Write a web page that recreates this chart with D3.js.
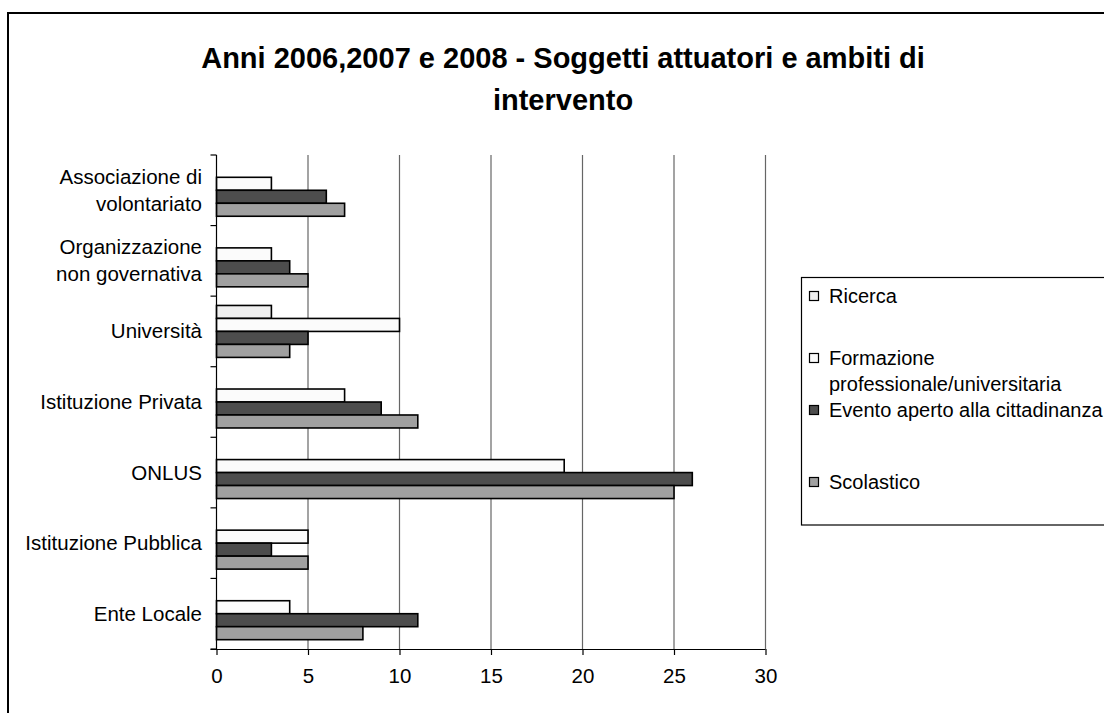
<!DOCTYPE html>
<html>
<head>
<meta charset="utf-8">
<script src="https://cdn.jsdelivr.net/npm/d3@7"></script>
<style>
  body { margin: 0; background: #fff; }
  svg { display: block; font-family: "Liberation Sans", Arial, sans-serif; }
</style>
</head>
<body>
<svg id="chart" width="1104" height="713"></svg>
<script>
// categories, top to bottom
const categories = [
    "Associazione di volontariato",
    "Organizzazione non governativa",
    "Università",
    "Istituzione Privata",
    "ONLUS",
    "Istituzione Pubblica",
    "Ente Locale"
];
// label lines as they wrap in the picture
const categoryLines = [
    ["Associazione di", "volontariato"],
    ["Organizzazione", "non governativa"],
    ["Università"],
    ["Istituzione Privata"],
    ["ONLUS"],
    ["Istituzione Pubblica"],
    ["Ente Locale"]
];

const series = ["Ricerca", "Formazione professionale/universitaria", "Evento aperto alla cittadinanza", "Scolastico"];
const seriesLines = [["Ricerca"], ["Formazione", "professionale/universitaria"], ["Evento aperto alla cittadinanza"], ["Scolastico"]];
const seriesColors = ["#efefef", "#fbfbfb", "#4d4d4d", "#a0a0a0"];

const ricerca    = [0, 0, 3, 0, 0, 0, 0];
const formazione = [3, 3, 10, 7, 19, 5, 4];
const evento     = [6, 4, 5, 9, 26, 3, 11];
const scolastico = [7, 5, 4, 11, 25, 5, 8];

const xTicks = [0, 5, 10, 15, 20, 25, 30];

const titleLines = ["Anni 2006,2007 e 2008 - Soggetti attuatori e ambiti di", "intervento"];

const svg = d3.select('#chart');

// outer chart frame
svg.append('rect')
    .attr('x', 8).attr('y', 13)
    .attr('width', 1110).attr('height', 720)
    .attr('fill', '#fff')
    .attr('stroke', '#000')
    .attr('stroke-width', 2);

// title
svg.append('text')
    .attr('text-anchor', 'middle')
    .attr('font-weight', 'bold')
    .attr('font-size', 29)
    .selectAll('tspan')
    .data(titleLines)
    .enter()
    .append('tspan')
    .attr('x', 563)
    .attr('y', (d, i) => 68 + i * 42)
    .text(d => d);

const plot = { left: 216.5, right: 765.5, top: 155, bottom: 649 };

const x = d3.scaleLinear()
    .domain([0, 30])
    .range([plot.left, plot.right]);

const y0 = d3.scaleBand()
    .domain(categories)
    .range([plot.top, plot.bottom]);

const bw = y0.bandwidth();
const y1 = d3.scaleBand()
    .domain(series)
    .range([bw * 0.132, bw * 0.868]);

// gridlines
svg.append('g')
    .selectAll('line')
    .data(xTicks.slice(1))
    .enter()
    .append('line')
    .attr('x1', d => x(d)).attr('x2', d => x(d))
    .attr('y1', plot.top).attr('y2', plot.bottom)
    .attr('stroke', '#666')
    .attr('stroke-width', 1.2);

// bars
const rows = categories.map((c, i) => ({
    cat: c,
    values: [ricerca[i], formazione[i], evento[i], scolastico[i]]
}));

const groups = svg.append('g')
    .selectAll('g')
    .data(rows)
    .enter()
    .append('g')
    .attr('transform', d => `translate(0,${y0(d.cat)})`);

groups.selectAll('rect')
    .data(d => d.values.map((v, j) => ({ s: series[j], v: v, j: j })).filter(d => d.v > 0))
    .enter()
    .append('rect')
    .attr('x', x(0))
    .attr('y', d => y1(d.s))
    .attr('width', d => x(d.v) - x(0))
    .attr('height', y1.bandwidth())
    .attr('fill', d => seriesColors[d.j])
    .attr('stroke', '#000')
    .attr('stroke-width', 1.6);

// x axis
const xAxis = svg.append('g')
    .attr('transform', `translate(0,${plot.bottom})`)
    .call(d3.axisBottom(x).tickValues(xTicks).tickSize(6).tickPadding(13));
xAxis.select('.domain').attr('stroke', '#000').attr('stroke-width', 1.2)
    .attr('d', `M${plot.left - 6},0.5H${plot.right}`);
xAxis.selectAll('.tick line').attr('stroke', '#000').attr('stroke-width', 1.2);
xAxis.selectAll('.tick text')
    .attr('font-family', '"Liberation Sans", Arial, sans-serif')
    .attr('font-size', 20.5)
    .attr('fill', '#000');

// y axis: ticks at band edges
const yEdges = categories.map(c => y0(c)).concat([plot.bottom]);
svg.append('line')
    .attr('x1', plot.left).attr('x2', plot.left)
    .attr('y1', plot.top).attr('y2', plot.bottom)
    .attr('stroke', '#000').attr('stroke-width', 1.2);
svg.append('g')
    .selectAll('line')
    .data(yEdges)
    .enter()
    .append('line')
    .attr('x1', plot.left - 6).attr('x2', plot.left)
    .attr('y1', d => d).attr('y2', d => d)
    .attr('stroke', '#000').attr('stroke-width', 1.2);

// category labels
const lineH = 27;
svg.append('g')
    .selectAll('text')
    .data(categories)
    .enter()
    .append('text')
    .attr('text-anchor', 'end')
    .attr('font-size', 20.5)
    .each(function(c, i) {
        const lines = categoryLines[i];
        const cy = y0(c) + bw / 2;
        d3.select(this).selectAll('tspan')
            .data(lines)
            .enter()
            .append('tspan')
            .attr('x', 202)
            .attr('y', (d, k) => cy + (k - (lines.length - 1) / 2) * lineH + 7)
            .text(d => d);
    });

// legend
const legend = svg.append('g');
legend.append('rect')
    .attr('x', 801.5).attr('y', 277.5)
    .attr('width', 400).attr('height', 247.5)
    .attr('fill', '#fff')
    .attr('stroke', '#000')
    .attr('stroke-width', 1.2);

const legendY = [296, 358, 410, 482];
series.forEach((s, i) => {
    legend.append('rect')
        .attr('x', 809.5).attr('y', legendY[i] - 4.5)
        .attr('width', 9).attr('height', 9)
        .attr('fill', seriesColors[i])
        .attr('stroke', '#000')
        .attr('stroke-width', 1.2);
    legend.append('text')
        .attr('font-size', 20)
        .selectAll('tspan')
        .data(seriesLines[i])
        .enter()
        .append('tspan')
        .attr('x', 829)
        .attr('y', (d, k) => legendY[i] + 7 + k * 26)
        .text(d => d);
});
</script>
</body>
</html>
